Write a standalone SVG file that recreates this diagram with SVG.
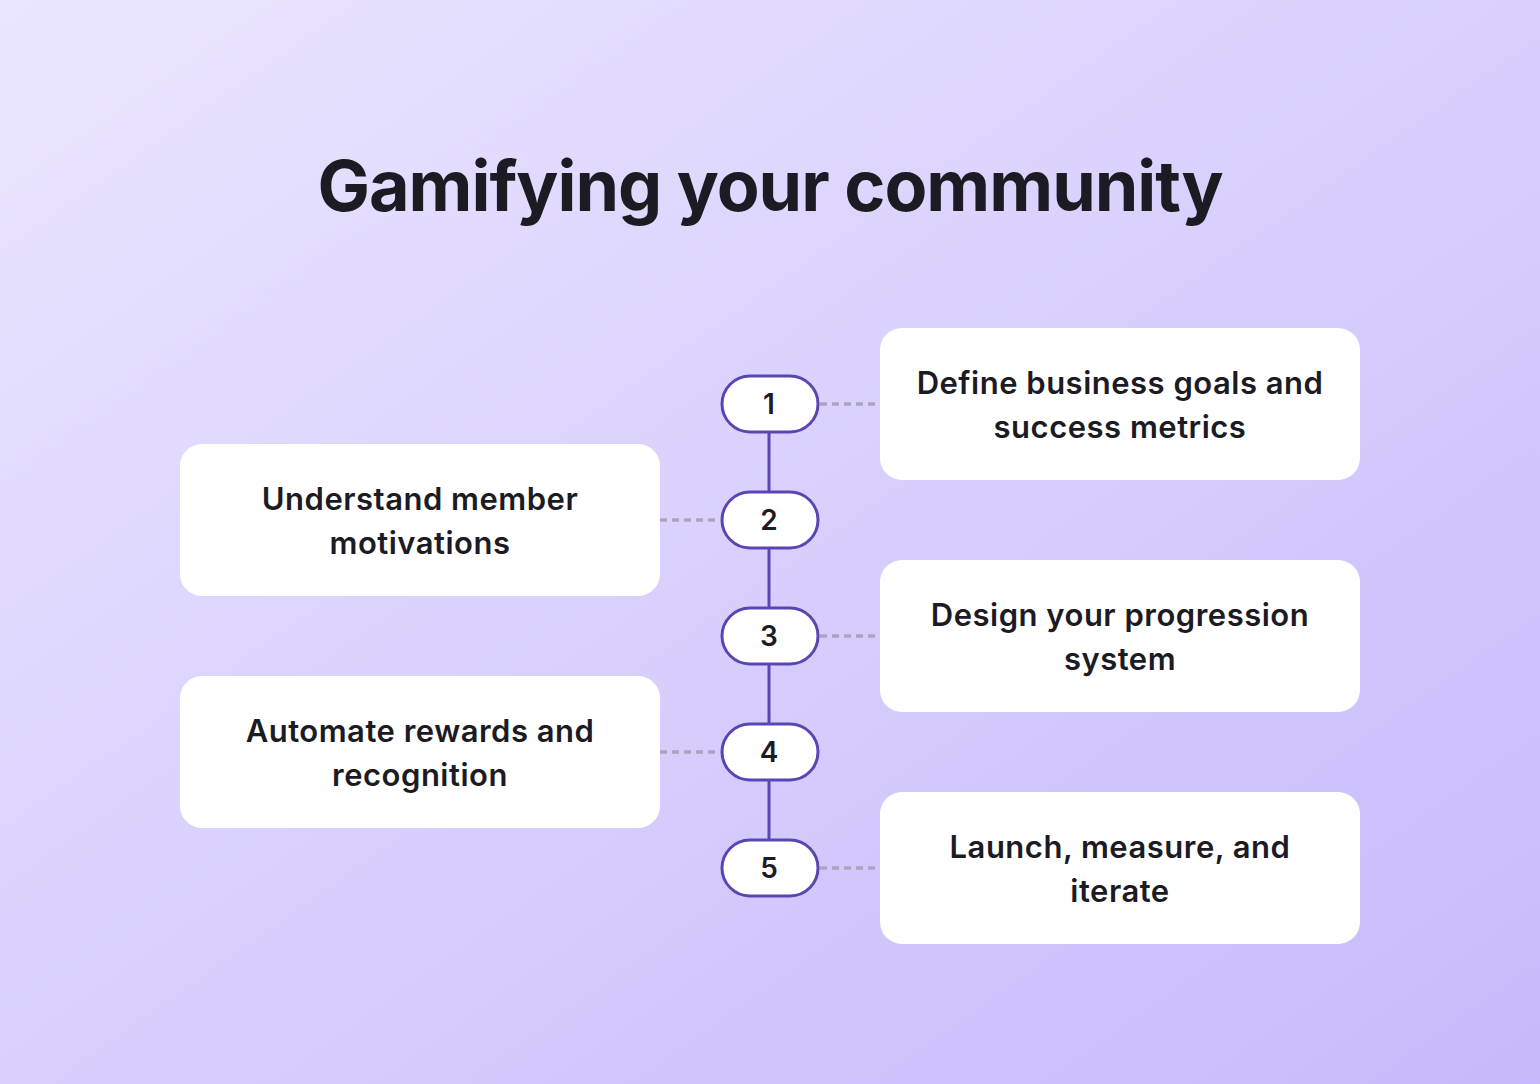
<svg xmlns="http://www.w3.org/2000/svg" width="1540" height="1084" viewBox="0 0 1540 1084">
<defs>
<linearGradient id="bg" x1="0" y1="0" x2="1" y2="1">
<stop offset="0" stop-color="#ebe6ff"/>
<stop offset="1" stop-color="#c6b9fb"/>
</linearGradient>
<style>
.box{fill:#fff}
.pill{fill:#fff;stroke:#5a45b3;stroke-width:3}
.t{font-family:Inter,"Liberation Sans",sans-serif;font-weight:600;font-size:31px;letter-spacing:0.5px;fill:#1c1b24;text-anchor:middle}
.n{font-family:Inter,"Liberation Sans",sans-serif;font-weight:600;font-size:28px;fill:#1c1b24;text-anchor:middle}
.dash{stroke:#aaa4c2;stroke-width:3.5;stroke-dasharray:7 5;fill:none}
</style>
</defs>
<rect width="1540" height="1084" fill="url(#bg)"/>
<text x="770" y="211" font-family="Inter,'Liberation Sans',sans-serif" font-weight="700" font-size="70" fill="#1c1b24" text-anchor="middle" letter-spacing="-1">Gamifying your community</text>
<g id="connectors">
<line x1="769" y1="404" x2="769" y2="868" stroke="#5a45b3" stroke-width="3"/>
<line class="dash" x1="820" y1="404" x2="880" y2="404"/>
<line class="dash" x1="660" y1="520" x2="720" y2="520"/>
<line class="dash" x1="820" y1="636" x2="880" y2="636"/>
<line class="dash" x1="660" y1="752" x2="720" y2="752"/>
<line class="dash" x1="820" y1="868" x2="880" y2="868"/>
</g>
<g id="step1"><rect class="pill" x="722" y="376" width="96" height="56" rx="28"/><text class="n" x="769" y="414">1</text></g>
<g id="step2"><rect class="pill" x="722" y="492" width="96" height="56" rx="28"/><text class="n" x="769" y="530">2</text></g>
<g id="step3"><rect class="pill" x="722" y="608" width="96" height="56" rx="28"/><text class="n" x="769" y="646">3</text></g>
<g id="step4"><rect class="pill" x="722" y="724" width="96" height="56" rx="28"/><text class="n" x="769" y="762">4</text></g>
<g id="step5"><rect class="pill" x="722" y="840" width="96" height="56" rx="28"/><text class="n" x="769" y="878">5</text></g>
<g id="box1"><rect class="box" x="880" y="328" width="480" height="152" rx="22"/><text class="t" x="1120" y="394">Define business goals and</text><text class="t" x="1120" y="438">success metrics</text></g>
<g id="box2"><rect class="box" x="180" y="444" width="480" height="152" rx="22"/><text class="t" x="420" y="510">Understand member</text><text class="t" x="420" y="554">motivations</text></g>
<g id="box3"><rect class="box" x="880" y="560" width="480" height="152" rx="22"/><text class="t" x="1120" y="626">Design your progression</text><text class="t" x="1120" y="670">system</text></g>
<g id="box4"><rect class="box" x="180" y="676" width="480" height="152" rx="22"/><text class="t" x="420" y="742">Automate rewards and</text><text class="t" x="420" y="786">recognition</text></g>
<g id="box5"><rect class="box" x="880" y="792" width="480" height="152" rx="22"/><text class="t" x="1120" y="858">Launch, measure, and</text><text class="t" x="1120" y="902">iterate</text></g>
</svg>
